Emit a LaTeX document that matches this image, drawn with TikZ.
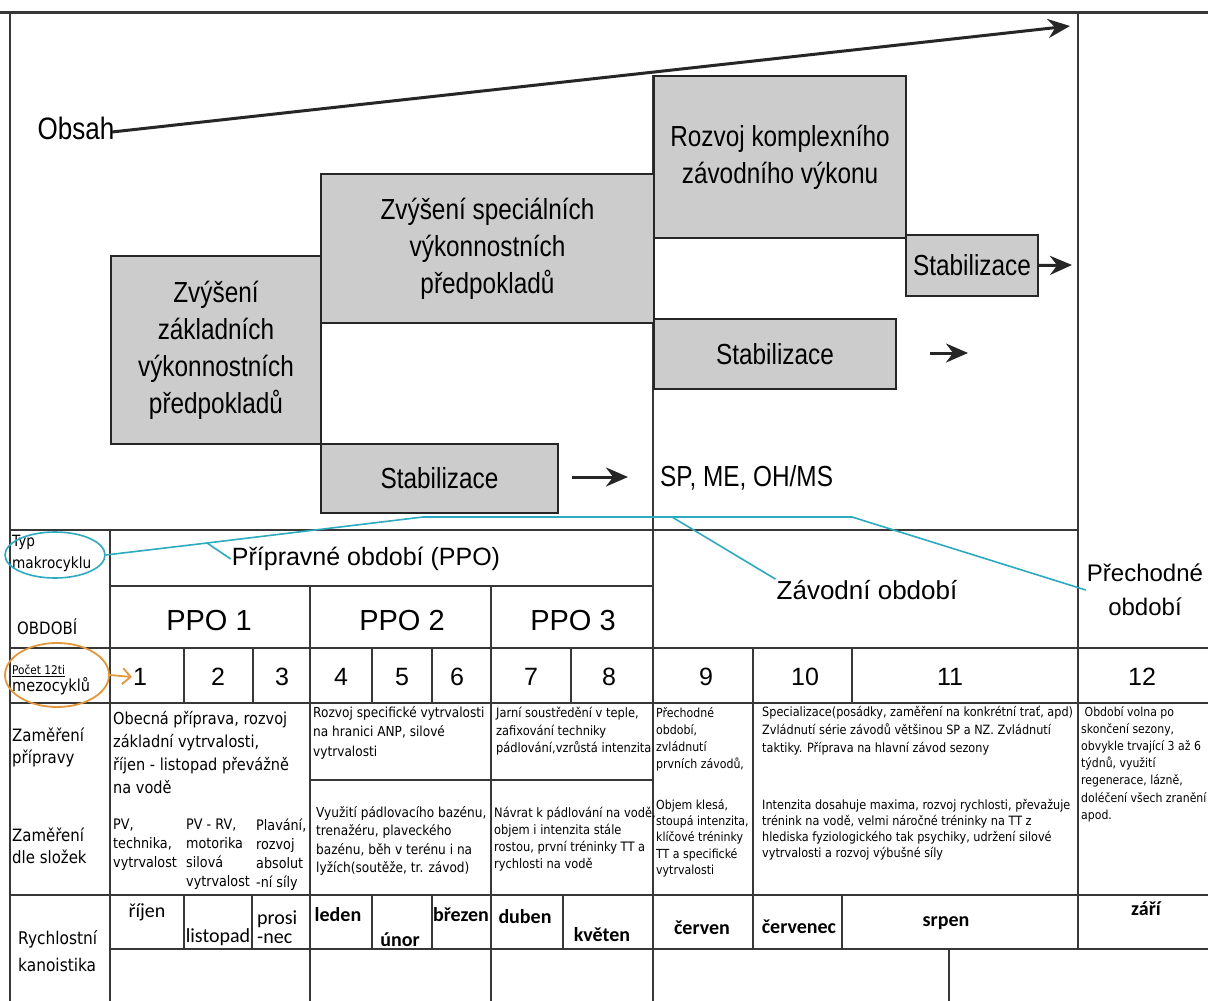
\documentclass[tikz,border=0pt]{standalone}
\usepackage{fontspec}
\setmainfont{Liberation Sans}
\newfontfamily\narrowfont[FakeStretch=0.84]{Liberation Sans}
\newfontfamily\tabfont[FakeStretch=0.88]{DejaVu Sans}
\newfontfamily\monthfont{Carlito}
\usetikzlibrary{arrows.meta,shapes.geometric,positioning}
\definecolor{boxgray}{RGB}{204,204,204}
\definecolor{tealline}{RGB}{45,170,192}
\definecolor{orangeline}{RGB}{228,152,62}
\definecolor{gridline}{RGB}{55,55,55}

\begin{document}
\begin{tikzpicture}
[x=1pt,y=-1pt,>=stealth,
box/.style = {draw=black!85, line width=2pt, fill=boxgray, inner sep=0pt, align=center, font=\narrowfont\fontsize{29}{37}\selectfont},
diag/.style = {inner sep=0pt, font=\narrowfont\fontsize{29}{37}\selectfont},
head/.style = {inner sep=1pt, align=center, font=\fontsize{26}{34}\selectfont},
num/.style = {inner sep=1pt, font=\fontsize{25}{30}\selectfont},
lab/.style = {anchor=west, align=left, inner sep=0pt, font=\tabfont\fontsize{17}{22}\selectfont},
desc/.style = {anchor=north west, align=left, inner sep=0pt, font=\tabfont\fontsize{13}{17}\selectfont},
month/.style = {inner sep=0pt, align=left, font=\monthfont\fontsize{20}{19}\selectfont},
monthb/.style = {inner sep=0pt, font=\monthfont\bfseries\fontsize{20}{20}\selectfont},
grid/.style = {draw=gridline, line width=1.6pt},
bigarrow/.style = {-{Stealth[length=22pt,width=19pt]}, line width=3pt, black!85},
typ/.style = {draw=tealline, line width=1.6pt},
poc/.style = {draw=orangeline, line width=1.8pt},]
\useasboundingbox (0,0) rectangle (1208,1001);
\fill[white] (0,0) rectangle (1208,1001);
\clip (0,0) rectangle (1208,1001);

% grid of the table
\draw[grid] (653,75) -- (653,1001);
\draw[grid] (10,530) -- (1078,530) (110,586) -- (653,586) (10,648) -- (1208,648) (10,703) -- (1208,703)
  (310,780) -- (653,780) (10,895) -- (1208,895) (110,949) -- (1208,949);
\draw[grid] (10,12) -- (10,1001) (1078,12) -- (1078,949) (110,530) -- (110,1001) (310,586) -- (310,1001)
  (491,586) -- (491,1001) (753,648) -- (753,949) (949,949) -- (949,1001);
\draw[grid] (184,648) -- (184,703) (253,648) -- (253,703) (372,648) -- (372,703) (432,648) -- (432,703)
  (571,648) -- (571,703) (852,648) -- (852,703);
\draw[grid] (184,895) -- (184,949) (252,895) -- (252,949) (372,895) -- (372,949) (432,895) -- (432,949)
  (563,895) -- (563,949) (842,895) -- (842,949);
\draw[line width=3pt,gridline] (0,12) -- (1208,12);

% upper diagram
\node (obsah) at (76,128)[diag,font=\narrowfont\fontsize{31}{36}\selectfont] {Obsah};
\coordinate (obs1) at (112,132);
\coordinate (obs2) at (1070,26);
\draw[bigarrow] (obs1) -- (obs2);
\node (zakl) at (110,255)[box,anchor=north west,minimum width=210,minimum height=188] {Zvýšení\\základních\\výkonnostních\\předpokladů};
\node (spec) at (320,173)[box,anchor=north west,minimum width=333,minimum height=149] {Zvýšení speciálních\\výkonnostních\\předpokladů};
\node (kompl) at (653,75)[box,anchor=north west,minimum width=252,minimum height=162] {Rozvoj komplexního\\závodního výkonu};
\node (stabc) at (905,234)[box,anchor=north west,minimum width=132,minimum height=61] {Stabilizace};
\node (stabb) at (653,318)[box,anchor=north west,minimum width=242,minimum height=70] {Stabilizace};
\node (staba) at (320,443)[box,anchor=north west,minimum width=237,minimum height=69] {Stabilizace};
\node (spme) at (660,478)[diag,anchor=west] {SP, ME, OH/MS};
\coordinate (sc) at (1072,265);
\coordinate (sb1) at (930,353);
\coordinate (sb2) at (968,353);
\coordinate (sa1) at (572,477);
\coordinate (sa2) at (628,477);
\draw[bigarrow] (stabc.east) -- (sc);
\draw[bigarrow] (sb1) -- (sb2);
\draw[bigarrow] (sa1) -- (sa2);

% table head
\node (ppo) at (366,559)[head,font=\fontsize{25}{30}\selectfont] {Přípravné období (PPO)};
\node (zavod) at (867,590)[head] {Závodní období};
\node (prech) at (1145,590)[head,font=\fontsize{24}{34}\selectfont] {Přechodné\\období};
\node (ppo1) at (209,621)[head,font=\fontsize{29}{34}\selectfont] {PPO 1};
\node (ppo2) at (402,621)[head,font=\fontsize{29}{34}\selectfont] {PPO 2};
\node (ppo3) at (573,621)[head,font=\fontsize{29}{34}\selectfont] {PPO 3};
\node (m1) at (140,677)[num] {1};
\node (m2) at (218,677)[num] {2};
\node (m3) at (282,677)[num] {3};
\node (m4) at (341,677)[num] {4};
\node (m5) at (402,677)[num] {5};
\node (m6) at (457,677)[num] {6};
\node (m7) at (531,677)[num] {7};
\node (m8) at (609,677)[num] {8};
\node (m9) at (706,677)[num] {9};
\node (m10) at (805,677)[num] {10};
\node (m11) at (950,677)[num] {11};
\node (m12) at (1142,677)[num] {12};

% row labels
\node (typ) at (12,553)[lab,font=\tabfont\fontsize{15.5}{22}\selectfont] {Typ\\makrocyklu};
\node (obdobi) at (17,627)[lab] {OBDOBÍ};
\node (pocet) at (12,680)[lab,font=\tabfont\fontsize{16.5}{17}\selectfont] {{\fontsize{12}{13}\selectfont\underline{Počet 12ti}}\\mezocyklů};
\node (zampr) at (12,747)[lab] {Zaměření\\přípravy};
\node (zamsl) at (12,846)[lab] {Zaměření\\dle složek};
\node (rych) at (18,951)[lab,font=\tabfont\fontsize{17.5}{27}\selectfont] {Rychlostní\\kanoistika};
\node (typell) at (55,555)[typ,ellipse,minimum width=100,minimum height=46] {};
\node (pocell) at (57,675)[poc,ellipse,minimum width=104,minimum height=64] {};
\coordinate (tk1) at (207,543);
\coordinate (tk2) at (423,517);
\coordinate (tk3) at (672,517);
\coordinate (tk4) at (852,517);
\draw[typ] (typell.east) -- (tk1) -- (tk2) -- (tk3) -- (tk4) -- (prech.west);
\draw[typ] (tk1) -- (ppo.west);
\draw[typ] (tk3) -- (zavod.north west);
\draw[poc,-{Straight Barb[length=8pt,width=16pt]}] (pocell.east) -- (m1.west);

% cells
\node (p13) at (113,711)[desc,font=\tabfont\fontsize{16.5}{23}\selectfont] {Obecná příprava, rozvoj\\základní vytrvalosti,\\říjen - listopad převážně\\na vodě};
\node (s1) at (113,819)[desc,font=\tabfont\fontsize{14.5}{19}\selectfont] {PV,\\technika,\\vytrvalost};
\node (s2) at (186,819)[desc,font=\tabfont\fontsize{14.5}{19}\selectfont] {PV - RV,\\motorika\\silová\\vytrvalost};
\node (s3) at (256,819)[desc,font=\tabfont\fontsize{14.5}{19}\selectfont] {Plavání,\\rozvoj\\absolut\\-ní síly};
\node (p46) at (313,706)[desc,font=\tabfont\fontsize{13.8}{19.5}\selectfont] {Rozvoj specifické vytrvalosti\\na hranici ANP, silové\\vytrvalosti};
\node (s46) at (316,806)[desc,font=\tabfont\fontsize{13.8}{18.5}\selectfont] {Využití pádlovacího bazénu,\\trenažéru, plaveckého\\bazénu, běh v terénu i na\\lyžích(soutěže, tr. závod)};
\node (p78) at (496,707)[desc,font=\tabfont\fontsize{13}{17.5}\selectfont] {Jarní soustředění v teple,\\zafixování techniky\\pádlování,vzrůstá intenzita};
\node (s78) at (494,807)[desc,font=\tabfont\fontsize{13}{17}\selectfont] {Návrat k pádlování na vodě,\\objem i intenzita stále\\rostou, první tréninky TT a\\rychlosti na vodě};
\node (p9) at (656,707)[desc,font=\tabfont\fontsize{12.5}{17}\selectfont] {Přechodné\\období,\\zvládnutí\\prvních závodů,};
\node (s9) at (656,799)[desc,font=\tabfont\fontsize{12.5}{16.3}\selectfont] {Objem klesá,\\stoupá intenzita,\\klíčové tréninky\\TT a specifické\\vytrvalosti};
\node (p1011) at (762,706)[desc,font=\tabfont\fontsize{12.8}{18}\selectfont] {Specializace(posádky, zaměření na konkrétní trať, apd)\\Zvládnutí série závodů většinou SP a NZ. Zvládnutí\\taktiky. Příprava na hlavní závod sezony};
\node (s1011) at (762,799)[desc,font=\tabfont\fontsize{12.8}{16}\selectfont] {Intenzita dosahuje maxima, rozvoj rychlosti, převažuje\\trénink na vodě, velmi náročné tréninky na TT z\\hlediska fyziologického tak psychiky, udržení silové\\vytrvalosti a rozvoj výbušné síly};
\node (p12) at (1081,706)[desc,font=\tabfont\fontsize{12.4}{17.2}\selectfont] {\ Období volna po\\skončení sezony,\\obvykle trvající 3 až 6\\týdnů, využití\\regenerace, lázně,\\doléčení všech zranění\\apod.};

% months
\node (rij) at (147,912)[month] {říjen};
\node (lis) at (218,937)[month] {listopad};
\node (pro) at (257,927)[month,anchor=west] {prosi\\-nec};
\node (led) at (338,915)[monthb] {leden};
\node (uno) at (400,940)[monthb] {únor};
\node (bre) at (461,915)[monthb] {březen};
\node (dub) at (525,917)[monthb] {duben};
\node (kve) at (602,935)[monthb] {květen};
\node (cer) at (702,928)[monthb] {červen};
\node (cec) at (799,927)[monthb] {červenec};
\node (srp) at (946,923)[monthb] {srpen};
\node (zar) at (1146,909)[monthb] {září};
\end{tikzpicture}
\end{document}
